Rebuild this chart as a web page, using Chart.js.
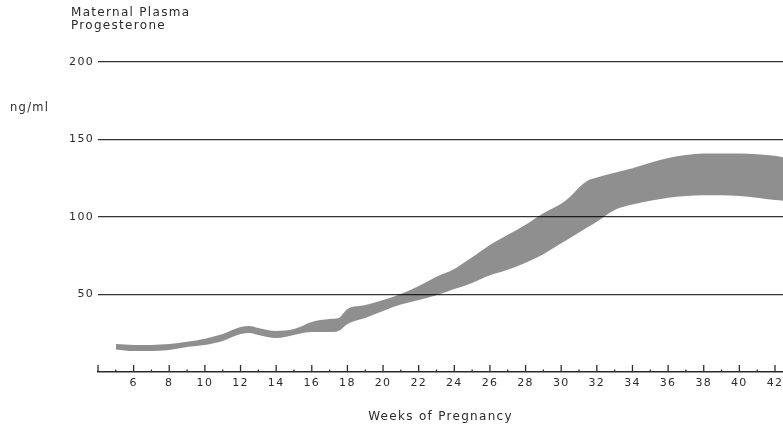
<!DOCTYPE html>
<html>
<head>
<meta charset="utf-8">
<script src="https://cdn.jsdelivr.net/npm/chart.js@4"></script>
<style>
  body { margin: 0; background: #fff; }
  #wrap { position: relative; width: 783px; height: 429px; }
  .lbl { position: absolute; font-family: "DejaVu Sans", sans-serif; color: #2b2b2b; letter-spacing: 1.3px; }
</style>
</head>
<body>
<div id="wrap">
  <canvas id="chart"></canvas>
  <div class="lbl" style="left:71px; top:6px; font-size:12px; line-height:12.5px;">Maternal Plasma<br>Progesterone</div>
  <div class="lbl" style="left:10px; top:100px; font-size:11.5px;">ng/ml</div>
</div>
<script>
// band: weeks, upper and lower edge (ng/ml)
const weeks = [5, 6, 7, 8, 9, 10, 11, 12, 12.5, 13, 14, 15, 16, 17, 17.5, 18, 19, 20, 21, 22, 23, 24, 25, 26, 27, 28, 29, 30, 30.5, 31, 31.5, 32, 33, 34, 35, 36, 37, 38, 39, 40, 41, 42, 42.5];
const upperValues = [18, 17.5, 17.5, 18, 19.5, 21.5, 24.5, 29, 29.7, 28.4, 26.5, 27.7, 32.3, 34.2, 34.8, 40.6, 43.2, 46.5, 50.3, 55.5, 61.5, 66.5, 74, 82, 88.5, 95, 102.5, 108.5, 113, 119, 123.5, 125.5, 128.5, 131.5, 135, 138, 140, 141, 141, 141, 140.5, 139.5, 138.5];
const lowerValues = [14.5, 13.5, 13.5, 14.2, 16.1, 17.4, 20, 24.5, 25.2, 23.9, 21.9, 23.9, 25.8, 25.8, 26.5, 31, 34.8, 39.4, 43.5, 46.5, 49.5, 53.5, 57.5, 62.5, 66, 70.5, 76, 83, 86.5, 90, 93.5, 97, 104.5, 108, 110.5, 112.5, 113.5, 114, 114, 113.5, 112.5, 111, 110.5];
const yTicks = [50, 100, 150, 200];
const xLabelWeeks = [6, 8, 10, 12, 14, 16, 18, 20, 22, 24, 26, 28, 30, 32, 34, 36, 38, 40, 42];
const xFirstWeek = 4;
const xLastWeek = 42;
const xEnd = 42.45; // the picture is cut off just past week 42

const inkColor = "#2b2b2b";
const bandColor = "rgba(0,0,0,0.44)"; // see-through so the grid lines show across the band

function toPoints(vals) {
  return weeks.map((w, i) => ({ x: w, y: vals[i] }));
}

// wider letter spacing, the scanned text looks stretched
const spacing = {
  id: "spacing",
  beforeUpdate(chart) { chart.ctx.letterSpacing = "1.3px"; },
  beforeDraw(chart) { chart.ctx.letterSpacing = "1.3px"; }
};

// short upward tick marks on the week axis, tall on even weeks
const tickMarks = {
  id: "tickMarks",
  afterDatasetsDraw(chart) {
    const xs = chart.scales.x;
    const ctx = chart.ctx;
    const y0 = chart.chartArea.bottom;
    ctx.save();
    ctx.strokeStyle = inkColor;
    ctx.lineWidth = 1.3;
    xs.ticks.forEach((t) => {
      if (!Number.isInteger(t.value)) return;
      const px = xs.getPixelForValue(t.value);
      const len = t.value % 2 === 0 ? 7 : 2.5;
      ctx.beginPath();
      ctx.moveTo(px, y0);
      ctx.lineTo(px, y0 - len);
      ctx.stroke();
    });
    ctx.restore();
  }
};

const ctx = document.getElementById("chart").getContext("2d");
new Chart(ctx, {
  type: "line",
  data: {
    datasets: [
      {
        label: "lower",
        data: toPoints(lowerValues),
        borderWidth: 0,
        pointRadius: 0,
        cubicInterpolationMode: "monotone",
        fill: false
      },
      {
        label: "upper",
        data: toPoints(upperValues),
        borderWidth: 0,
        pointRadius: 0,
        cubicInterpolationMode: "monotone",
        backgroundColor: bandColor,
        fill: "-1"
      }
    ]
  },
  options: {
    responsive: true,
    maintainAspectRatio: false,
    animation: false,
    layout: { padding: { top: 62, left: 0, right: 0, bottom: 0 } },
    plugins: {
      legend: { display: false },
      tooltip: { enabled: false }
    },
    scales: {
      x: {
        type: "linear",
        min: xFirstWeek,
        max: xEnd,
        afterBuildTicks(axis) {
          const list = [];
          for (let w = xFirstWeek; w <= xLastWeek; w++) list.push({ value: w });
          list.push({ value: xEnd });
          axis.ticks = list;
        },
        afterFit(axis) { axis.height = 57; },
        // invisible downward ticks only push the labels down
        grid: { display: true, drawOnChartArea: false, drawTicks: true, tickLength: 5, tickColor: "rgba(0,0,0,0)" },
        border: { display: true, color: inkColor, width: 1.5 },
        ticks: {
          autoSkip: false,
          maxRotation: 0,
          padding: 0,
          color: inkColor,
          font: { family: "DejaVu Sans", size: 11 },
          callback: (v) => (xLabelWeeks.includes(v) ? String(v) : "")
        },
        title: {
          display: true,
          text: "Weeks of Pregnancy",
          color: inkColor,
          font: { family: "DejaVu Sans", size: 12 },
          padding: { top: 4, bottom: 5 }
        }
      },
      y: {
        min: 0,
        max: 200,
        afterBuildTicks(axis) {
          axis.ticks = yTicks.map((v) => ({ value: v }));
        },
        afterFit(axis) { axis.width = 98; },
        grid: { color: "#333", lineWidth: 1.2, drawTicks: false },
        border: { display: false },
        ticks: {
          padding: 4,
          color: inkColor,
          font: { family: "DejaVu Sans", size: 11 }
        }
      }
    }
  },
  plugins: [spacing, tickMarks]
});
</script>
</body>
</html>
